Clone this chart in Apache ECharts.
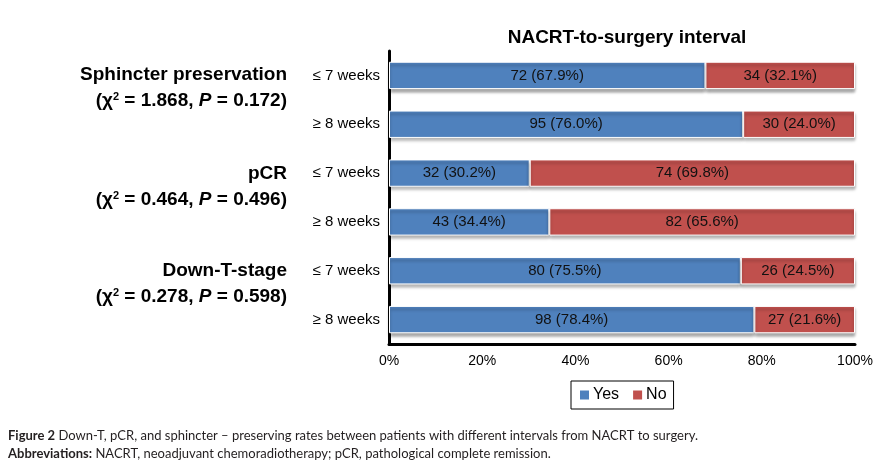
<!DOCTYPE html>
<html>
<head>
<meta charset="utf-8">
<script src="https://cdn.jsdelivr.net/npm/echarts@6/dist/echarts.min.js"></script>
<style>
html,body{margin:0;padding:0;background:#fff;}
#chart{width:881px;height:467px;}
</style>
</head>
<body>
<div id="chart"></div>
<script>
var categories = ["Sphincter|≤ 7 weeks","Sphincter|≥ 8 weeks","pCR|≤ 7 weeks","pCR|≥ 8 weeks","DownT|≤ 7 weeks","DownT|≥ 8 weeks"];
var yesCounts = [72, 95, 32, 43, 80, 98];
var noCounts = [34, 30, 74, 82, 26, 27];
var yesPct = [67.9, 76.0, 30.2, 34.4, 75.5, 78.4];
var noPct = [32.1, 24.0, 69.8, 65.6, 24.5, 21.6];
var groupNames = ["Sphincter preservation", "pCR", "Down-T-stage"];
var groupStats = [["1.868", "0.172"], ["0.464", "0.496"], ["0.278", "0.598"]];

var FF = '"Liberation Sans", Arial, sans-serif';
var chart = echarts.init(document.getElementById('chart'));
var groupTop = [76, 175, 272];
var graphics = [];
for (var i = 0; i < groupNames.length; i++) {
  graphics.push({
    type: 'text', right: 881 - 287, top: groupTop[i] - 11,
    style: {text: groupNames[i], font: 'bold 19px ' + FF, fill: '#000', textAlign: 'right'}
  });
  graphics.push({
    type: 'text', right: 881 - 287, top: groupTop[i] + 15,
    style: {
      text: '{n|(χ}{s|2}{n| = ' + groupStats[i][0] + ', }{i|P}{n| = ' + groupStats[i][1] + ')}',
      textAlign: 'right',
      rich: {
        n: {font: 'bold 19px ' + FF, fill: '#000'},
        i: {font: 'italic bold 19px ' + FF, fill: '#000'},
        s: {font: 'bold 11px ' + FF, fill: '#000', verticalAlign: 'top', padding: [0, 0, 9, 0]}
      }
    }
  });
}
graphics.push({
  type: 'text', left: 8, top: 429,
  style: {
    text: '{b|Figure 2} {t|Down-T, pCR, and sphincter – preserving rates between patients with different intervals from NACRT to surgery.}\n{b|Abbreviations:} {t|NACRT, neoadjuvant chemoradiotherapy; pCR, pathological complete remission.}',
    rich: {
      b: {font: 'bold 13px Lato, "Open Sans", sans-serif', fill: '#231f20', lineHeight: 18},
      t: {font: '13px Lato, "Open Sans", sans-serif', fill: '#231f20', lineHeight: 18}
    }
  }
});

function barLabel(counts, pcts) {
  return function (p) {
    return counts[p.dataIndex] + ' (' + pcts[p.dataIndex].toFixed(1) + '%)';
  };
}

var itemShadow = {borderColor: '#fff', borderWidth: 1, shadowColor: 'rgba(0,0,0,0.35)', shadowBlur: 3, shadowOffsetY: 3};

chart.setOption({
  animation: false,
  title: {
    text: 'NACRT-to-surgery interval', left: 622, top: 23, textAlign: 'center',
    textStyle: {fontFamily: FF, fontWeight: 'bold', fontSize: 19, color: '#000'}
  },
  legend: {
    data: ['Yes', 'No'], left: 571, top: 381,
    itemWidth: 11, itemHeight: 11, itemGap: 12,
    borderColor: '#000', borderWidth: 1, borderRadius: 0, padding: [6, 7, 6, 7],
    textStyle: {fontFamily: FF, fontSize: 16, color: '#000', padding: [0, 0, 0, -2]},
    icon: 'rect'
  },
  grid: {left: 389, right: 26, top: 51, bottom: 123, containLabel: false},
  xAxis: {
    type: 'value', min: 0, max: 100, interval: 20,
    axisLine: {show: true, lineStyle: {color: '#000', width: 3}},
    axisTick: {show: false}, splitLine: {show: false},
    axisLabel: {formatter: '{value}%', fontFamily: FF, fontSize: 14, color: '#000', margin: 10}
  },
  yAxis: {
    type: 'category', data: categories, inverse: true,
    axisLine: {show: true, lineStyle: {color: '#000', width: 3}},
    axisTick: {show: false},
    axisLabel: {formatter: function (v) { return v.split('|')[1]; }, fontFamily: FF, fontSize: 15, color: '#000', margin: 9}
  },
  series: [
    {
      name: 'Yes', type: 'bar', stack: 'all', data: yesPct, barCategoryGap: '44%',
      itemStyle: Object.assign({color: '#4F81BD'}, itemShadow),
      label: {show: true, position: 'inside', formatter: barLabel(yesCounts, yesPct), fontFamily: FF, fontSize: 15, color: '#111'}
    },
    {
      name: 'No', type: 'bar', stack: 'all', data: noPct, barCategoryGap: '44%',
      itemStyle: Object.assign({color: '#C0504D'}, itemShadow),
      label: {show: true, position: 'inside', formatter: barLabel(noCounts, noPct), fontFamily: FF, fontSize: 15, color: '#111'}
    }
  ],
  graphic: graphics
});
</script>
</body>
</html>
